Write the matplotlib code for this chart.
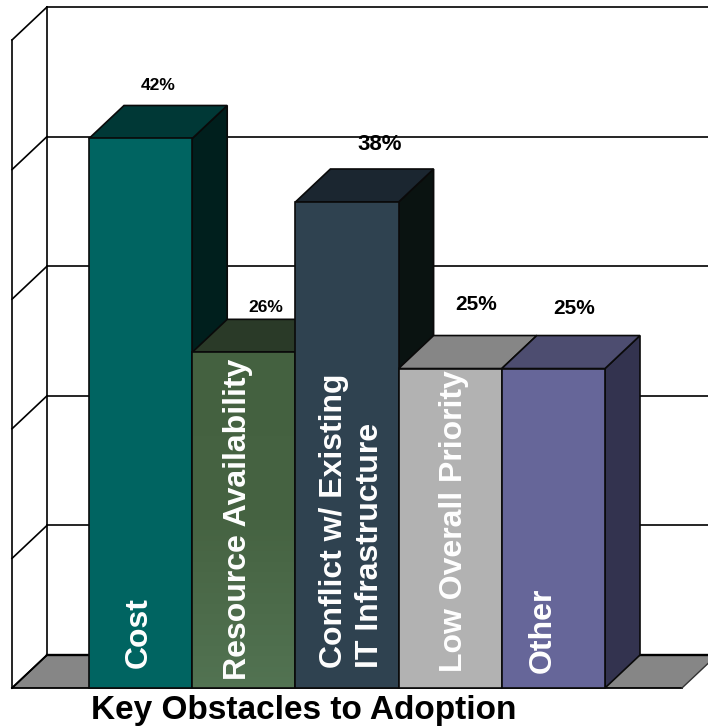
import numpy as np
import matplotlib
matplotlib.use('Agg')
from matplotlib import pyplot as plt
from matplotlib.patches import Polygon
from matplotlib.colors import LinearSegmentedColormap

# chart values
categories = ['Cost', 'Resource Availability', 'Conflict w/ Existing\nIT Infrastructure',
              'Low Overall Priority', 'Other']
bar_heights = [42.4, 25.9, 37.5, 24.65, 24.65]
value_labels = ['42%', '26%', '38%', '25%', '25%']
grid_values = [0, 10, 20, 30, 40, 50]
chart_title = 'Key Obstacles to Adoption'

# colours: front, top, side
front_colors = ['#006461', '#486643', '#2f4250', '#b2b2b2', '#666699']
top_colors = ['#003836', '#2a3a28', '#1b2630', '#868686', '#4d4d70']
side_colors = ['#001f1d', '#18231a', '#0a1311', '#5a5a5a', '#33334f']

# pixel scale of one bar slot and one percent, used to set the axes limits
px_bar = 103.2
px_pct = 12.96
fig_w, fig_h = 708, 727
origin_x, origin_y = 89, 688
depth_x = 35 / px_bar
depth_y = 33 / px_pct

# 3d wall corners in bar units
wall_left = (12 - origin_x) / px_bar
floor_right = (682 - origin_x) / px_bar

# label placement in pixels, separate from the data
cat_x = [139, 238, 352, 454, 543]
cat_bottom = [668, 680, 668, 672, 673]
value_sizes = [12.5, 12.5, 16, 15, 15]
label_anchor = [(158, 85), (266, 308), (380, 144), (476, 304), (574, 309)]

plt.rcParams['font.family'] = ['Liberation Sans', 'DejaVu Sans']
fig = plt.figure(figsize=(fig_w / 100, fig_h / 100), dpi=100)
ax = fig.add_axes([0, 0, 1, 1])
ax.axis('off')

# floor
back_left = wall_left + depth_x
floor = Polygon([(wall_left, 0), (back_left, depth_y), (floor_right + depth_x, depth_y), (floor_right, 0)],
                closed=True, fc='#868686', ec='none', zorder=1)
ax.add_patch(floor)
ax.plot([wall_left, floor_right], [0, 0], color='k', lw=1.3, zorder=2)
ax.plot([wall_left, back_left], [0, depth_y], color='k', lw=1.3, zorder=2)
ax.plot([floor_right, floor_right + depth_x], [0, depth_y], color='#333333', lw=1.0, zorder=2)

# walls and gridlines
for g in grid_values:
    lw = 1.7 if g == 0 else 1.2
    ax.plot([back_left, floor_right + 1], [g + depth_y, g + depth_y], color='k', lw=lw, zorder=2)
    ax.plot([wall_left, back_left], [g, g + depth_y], color='k', lw=1.2, zorder=2)
ax.plot([wall_left, wall_left], [0, grid_values[-1]], color='k', lw=1.2, zorder=2)
ax.plot([back_left, back_left], [depth_y, grid_values[-1] + depth_y], color='k', lw=1.2, zorder=2)

# bars, left to right so each one covers the side of the previous
edge = dict(ec='#0a0a0a', lw=1.2, joinstyle='miter')
for i, h in enumerate(bar_heights):
    z = 3 + i
    side = Polygon([(i + 1, 0), (i + 1 + depth_x, depth_y), (i + 1 + depth_x, h + depth_y), (i + 1, h)],
                   closed=True, fc=side_colors[i], zorder=z, **edge)
    top = Polygon([(i, h), (i + depth_x, h + depth_y), (i + 1 + depth_x, h + depth_y), (i + 1, h)],
                  closed=True, fc=top_colors[i], zorder=z, **edge)
    front = Polygon([(i, 0), (i, h), (i + 1, h), (i + 1, 0)],
                    closed=True, fc=front_colors[i], zorder=z, **edge)
    ax.add_patch(side)
    ax.add_patch(top)
    ax.add_patch(front)
    if i == 1:
        # second bar fades a little lighter towards the floor
        cm = LinearSegmentedColormap.from_list('fade', ['#446140', '#466342', '#527352'])
        im = ax.imshow(np.linspace(0, 1, 64).reshape(-1, 1), cmap=cm, extent=(i, i + 1, 0, h),
                       origin='upper', aspect='auto', zorder=z)
        im.set_clip_path(front)
        ax.plot([i, i, i + 1, i + 1, i], [0, h, h, 0, 0], color='#0a0a0a', lw=1.2, zorder=z)
    ax.text((cat_x[i] - origin_x) / px_bar, (origin_y - cat_bottom[i]) / px_pct, categories[i],
            rotation=90, ha='center', va='bottom', color='white', fontsize=23, fontweight='bold',
            zorder=20, linespacing=1.25, multialignment='left')

ax.set_xlim(-origin_x / px_bar, (fig_w - origin_x) / px_bar)
ax.set_ylim((origin_y - fig_h) / px_pct, origin_y / px_pct)

# value labels above the bars
for i, txt in enumerate(value_labels):
    px, py = label_anchor[i]
    ax.text((px - origin_x) / px_bar, (origin_y - py) / px_pct, txt, ha='center', va='center',
            fontsize=value_sizes[i], fontweight='bold', color='k', zorder=21)

ax.text((304 - origin_x) / px_bar, (origin_y - 711) / px_pct, chart_title, ha='center', va='center',
        fontsize=24, fontweight='bold', color='k', zorder=21)

fig.savefig('out.png', dpi=100)
